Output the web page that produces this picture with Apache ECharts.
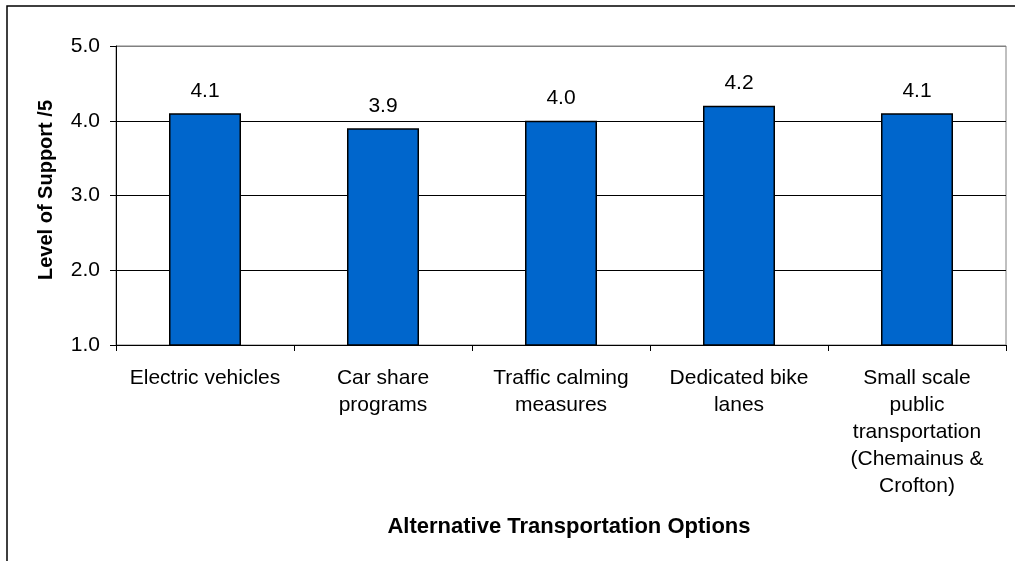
<!DOCTYPE html>
<html>
<head>
<meta charset="utf-8">
<script src="https://cdn.jsdelivr.net/npm/echarts@6/dist/echarts.min.js"></script>
<style>
html,body{margin:0;padding:0;background:#fff;}
#c{width:1015px;height:561px;}
</style>
</head>
<body>
<div id="c"></div>
<script>
const categories = [
  "Electric vehicles",
  "Car share\nprograms",
  "Traffic calming\nmeasures",
  "Dedicated bike\nlanes",
  "Small scale\npublic\ntransportation\n(Chemainus &\nCrofton)"
];
const supportValues = [4.1, 3.9, 4.0, 4.2, 4.1];
const yTicks = [1.0, 2.0, 3.0, 4.0, 5.0];
const xTitle = "Alternative Transportation Options";
const yTitle = "Level of Support /5";

const FONT = "'Liberation Sans', Arial, sans-serif";
const chart = echarts.init(document.getElementById('c'), null, {renderer: 'canvas'});
chart.setOption({
  animation: false,
  backgroundColor: '#fff',
  textStyle: {fontFamily: FONT},
  grid: {left: 116, right: 9, top: 46, bottom: 216, show: true, borderColor: '#808080', borderWidth: 1, backgroundColor: 'transparent'},
  graphic: [
    {type: 'rect', shape: {x: 7, y: 6, width: 1200, height: 800}, style: {fill: 'none', stroke: '#000', lineWidth: 1.5}, silent: true, z: 100},
    {type: 'text', x: 569, y: 527, style: {text: xTitle, font: "bold 22px 'Liberation Sans', Arial, sans-serif", fill: '#000', align: 'center', verticalAlign: 'middle'}},
    {type: 'text', rotation: Math.PI/2, x: 46, y: 190, style: {text: yTitle, font: "bold 20px 'Liberation Sans', Arial, sans-serif", fill: '#000', align: 'center', verticalAlign: 'middle'}}
  ],
  xAxis: {
    type: 'category',
    data: categories,
    axisLine: {lineStyle: {color: '#000', width: 1}},
    axisTick: {show: true, length: 6, lineStyle: {color: '#000'}},
    axisLabel: {interval: 0, color: '#000', fontSize: 21, fontFamily: FONT, lineHeight: 27, margin: 20, align: 'center'},
    splitLine: {show: false}
  },
  yAxis: {
    type: 'value',
    min: yTicks[0],
    max: yTicks[yTicks.length - 1],
    interval: 1,
    axisLine: {show: true, lineStyle: {color: '#000', width: 1}},
    axisTick: {show: true, length: 6, lineStyle: {color: '#000'}},
    axisLabel: {color: '#000', fontSize: 21, fontFamily: FONT, margin: 16, formatter: v => v.toFixed(1)},
    splitLine: {show: true, lineStyle: {color: ['#000', '#000', '#000', '#000', '#808080'], width: 1}}
  },
  series: [{
    type: 'bar',
    data: supportValues,
    barWidth: 72,
    itemStyle: {color: '#0066CC', borderColor: '#000', borderWidth: 1.5},
    label: {show: true, position: 'top', distance: 12, color: '#000', fontSize: 21, fontFamily: FONT, formatter: p => p.value.toFixed(1)}
  }]
});
</script>
</body>
</html>
